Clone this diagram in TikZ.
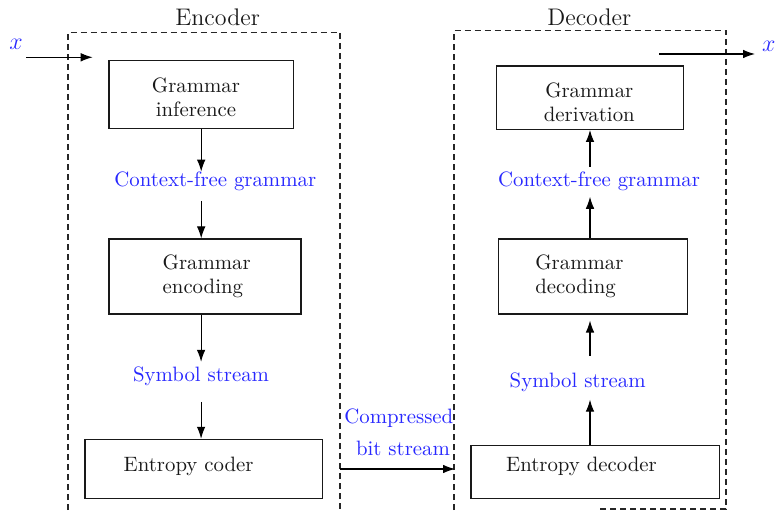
\documentclass[tikz,border=0pt]{standalone}
\usetikzlibrary{arrows.meta}
\definecolor{lblblue}{RGB}{40,40,255}
\definecolor{ink}{RGB}{25,25,25}
\begin{document}
\begin{tikzpicture}[x=0.5pt,y=-0.5pt,
  font=\fontsize{10.4}{12}\selectfont,
  box/.style={draw=black!90, line width=0.55pt, rectangle, inner sep=0pt},
  boxtext/.style={text=ink, inner sep=0pt},
  lbl/.style={text=lblblue, inner sep=0pt},
  arr/.style={-{Latex[length=6pt,width=4.3pt]}, line width=0.55pt, black},
  frame/.style={dash pattern=on 3pt off 2pt, line width=0.55pt, black!85},
  title/.style={font=\large, text=ink, inner sep=0pt}]
\useasboundingbox (0,0) rectangle (775,512);
\clip (0,0) rectangle (775,512);

% dashed frames
\draw[frame] (68,530) -- (68,32.5) -- (340,32.5) -- (340,530);
\draw[frame] (454,530) -- (454,30.5) -- (726,30.5) -- (726,509) -- (597,509);

% titles
\node[title, anchor=base west] (enct) at (175,26) {Encoder};
\node[title, anchor=base west] (dect) at (547,26) {Decoder};

% encoder boxes
\node[box, minimum width=92.2pt, minimum height=33.8pt] (gib) at (201.2,94.5) {};
\node[boxtext, align=center] (git) at (196,97.3) {Grammar\\inference};
\node[box, minimum width=96pt, minimum height=37.5pt] (geb) at (205,276.5) {};
\node[boxtext, align=left, anchor=west] (get) at (162.3,276.8) {Grammar\\encoding};
\node[box, minimum width=118.7pt, minimum height=29.5pt] (ecb) at (203.7,468.8) {};
\node[boxtext, anchor=base west] (ect) at (123.3,471) {Entropy coder};

% decoder boxes
\node[box, minimum width=93.3pt, minimum height=31.7pt] (gdb) at (590,97.7) {};
\node[boxtext, align=center] (gdt) at (589.3,102) {Grammar\\derivation};
\node[box, minimum width=94.7pt, minimum height=37.5pt] (gdcb) at (593,276.5) {};
\node[boxtext, align=left, anchor=west] (gdct) at (535,276.8) {Grammar\\decoding};
\node[box, minimum width=124.2pt, minimum height=26.3pt] (edb) at (595.2,472) {};
\node[boxtext, anchor=base west] (edt) at (505.7,471) {Entropy decoder};

% blue labels
\node[lbl, anchor=base west] (cfg1) at (114,186.7) {Context-free grammar};
\node[lbl, anchor=base west] (ss1) at (132.7,381.7) {Symbol stream};
\node[lbl, anchor=base west] (cfg2) at (497.7,186.7) {Context-free grammar};
\node[lbl, anchor=base west] (ss2) at (509.3,388) {Symbol stream};
\node[lbl, anchor=base west] (cbs1) at (344,423) {Compressed};
\node[lbl, anchor=base west] (cbs2) at (355.7,455) {bit stream};
\node[lbl, anchor=base west, font=\fontsize{11.5}{13}\selectfont] (xin) at (9,50) {$x$};
\node[lbl, anchor=base west, font=\fontsize{11.5}{13}\selectfont] (xout) at (761.7,51.7) {$x$};

% free-end coordinates
\coordinate (xs) at (26,57.3);
\coordinate (xe) at (92.7,57.3);
\coordinate (os) at (659,54);
\coordinate (oe) at (755,54);
\coordinate (bs) at (340,469);
\coordinate (be) at (455,469);

% encoder connectors
\draw[arr] (xs) -- (xe);
\draw[arr] (gib.south) -- (gib.south |- cfg1.north);
\draw[arr, shorten <=4.7pt] (gib.south |- cfg1.south) -- (gib.south |- geb.north);
\draw[arr, shorten >=2.4pt] (ss1.north |- geb.south) -- (ss1.north);
\draw[arr, shorten <=7.7pt] (ss1.south) -- (ss1.south |- ecb.north);
\draw[arr] (bs) -- (be);

% decoder connectors
\draw[arr, shorten >=3.5pt] (gdb.south |- edb.north) -- (gdb.south |- ss2.south);
\draw[arr, shorten <=8.5pt, shorten >=3pt] (gdb.south |- ss2.north) -- (gdb.south |- gdcb.south);
\draw[arr, shorten >=2.7pt] (gdb.south |- gdcb.north) -- (gdb.south |- cfg2.south);
\draw[arr, shorten <=2.4pt] (gdb.south |- cfg2.north) -- (gdb.south);
\draw[arr] (os) -- (oe);
\end{tikzpicture}
\end{document}
